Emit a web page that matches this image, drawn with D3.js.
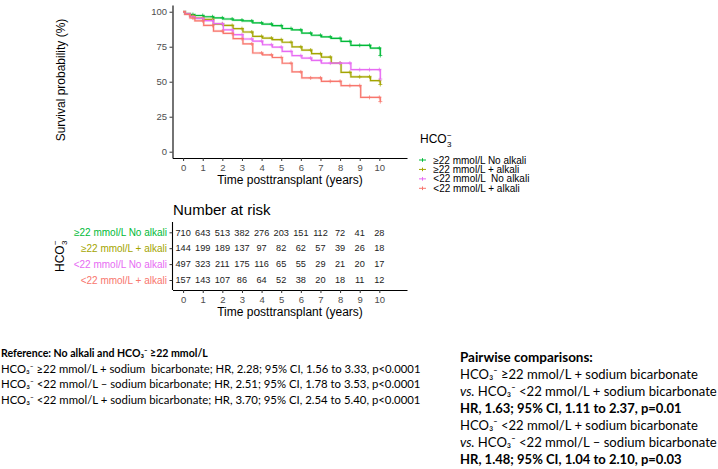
<!DOCTYPE html>
<html><head><meta charset="utf-8">
<script src="https://cdn.jsdelivr.net/npm/d3@7"></script>
<style>body{margin:0;background:#fff} svg{display:block}</style>
</head><body>
<svg id="c" width="718" height="469"></svg>
<script>
// ---------------- DATA ----------------
const groups = ["≥22 mmol/L No alkali", "≥22 mmol/L + alkali", "<22 mmol/L No alkali", "<22 mmol/L + alkali"];
const legendLabels = ["≥22 mmol/L No alkali", "≥22 mmol/L + alkali", "<22 mmol/L  No alkali", "<22 mmol/L + alkali"];
const stepTimes = [0, 0.1, 0.35, 0.6, 1.05, 1.55, 2.05, 2.55, 3.05, 3.55, 4.05, 4.55, 5.05, 5.55, 6.05, 6.55, 7.05, 7.55, 8.05, 8.55, 9.05, 9.55, 10.05];
const survNoAlkHigh = [100, 98.6, 98.0, 97.3, 96.4, 95.6, 94.8, 94.0, 93.4, 92.0, 91.2, 90.0, 88.0, 87.0, 84.7, 83.2, 82.0, 81.0, 78.8, 76.0, 76.0, 74.0, 68.7];
const survAlkHigh   = [100, 98.5, 97.0, 95.5, 94.5, 91.2, 90.2, 87.9, 85.5, 82.4, 81.2, 80.0, 78.2, 74.9, 72.6, 70.0, 67.6, 63.3, 56.7, 53.5, 53.5, 50.8, 48.0];
const survNoAlkLow  = [100, 98.5, 96.5, 95.2, 93.6, 91.5, 87.1, 83.6, 80.5, 79.0, 76.4, 74.7, 71.6, 68.6, 66.9, 65.2, 63.3, 63.3, 63.3, 58.6, 58.6, 58.6, 51.9];
const survAlkLow    = [100, 98.0, 95.5, 93.5, 90.2, 86.2, 84.5, 80.8, 77.0, 70.5, 69.2, 67.3, 63.2, 57.0, 52.7, 52.7, 50.3, 50.3, 47.2, 47.2, 38.8, 38.8, 35.8];
const censorTimes = [0.5, 1, 1.5, 2, 2.5, 3, 3.5, 4, 4.5, 5, 5.5, 6, 6.5, 7, 7.5, 8, 8.5, 9, 9.5, 10, 10.05];
const riskTimes = [0, 1, 2, 3, 4, 5, 6, 7, 8, 9, 10];
const riskNoAlkHigh = [710, 643, 513, 382, 276, 203, 151, 112, 72, 41, 28];
const riskAlkHigh   = [144, 199, 189, 137, 97, 82, 62, 57, 39, 26, 18];
const riskNoAlkLow  = [497, 323, 211, 175, 116, 65, 55, 29, 21, 20, 17];
const riskAlkLow    = [157, 143, 107, 86, 64, 52, 38, 20, 18, 11, 12];
const xTicks = [0, 1, 2, 3, 4, 5, 6, 7, 8, 9, 10];
const yTicks = [0, 25, 50, 75, 100];
const leftNotes = [
  "HCO₃⁻ ≥22 mmol/L + sodium  bicarbonate; HR, 2.28; 95% CI, 1.56 to 3.33, p<0.0001",
  "HCO₃⁻ <22 mmol/L – sodium bicarbonate; HR, 2.51; 95% CI, 1.78 to 3.53, p<0.0001",
  "HCO₃⁻ <22 mmol/L + sodium bicarbonate; HR, 3.70; 95% CI, 2.54 to 5.40, p<0.0001"
];

// ---------------- STYLE ----------------
const colors = ["#00BA38", "#A3A500", "#E76BF3", "#F8766D"];
const survAll = [survNoAlkHigh, survAlkHigh, survNoAlkLow, survAlkLow];
const riskAll = [riskNoAlkHigh, riskAlkHigh, riskNoAlkLow, riskAlkLow];
const AX = "Liberation Sans, Arial, sans-serif";
const NOTE = "Lato, 'Open Sans', sans-serif";

const svg = d3.select("#c");
svg.append("rect").attr("width", 718).attr("height", 469).attr("fill", "#fff");

// ---------------- SURVIVAL PLOT ----------------
const x = d3.scaleLinear().domain([-0.54, 11.41]).range([172.5, 407]);
const y = d3.scaleLinear().domain([-4.5, 104.8]).range([158, 5]);

function styleAxis(g) {
  g.select(".domain").attr("stroke", "#000").attr("stroke-width", 1.1);
  g.selectAll(".tick line").attr("stroke", "#333").attr("stroke-width", 1);
  g.selectAll(".tick text").attr("fill", "#4D4D4D").attr("font-family", AX).attr("font-size", 9.5);
}

const gy = svg.append("g").attr("transform", "translate(172.5,0)")
  .call(d3.axisLeft(y).tickValues(yTicks).tickSize(3).tickPadding(2.5).tickSizeOuter(0));
styleAxis(gy);
const gx = svg.append("g").attr("transform", "translate(0,158)")
  .call(d3.axisBottom(x).tickValues(xTicks).tickSize(3).tickPadding(3).tickSizeOuter(0));
styleAxis(gx);

svg.append("text").attr("x", 290).attr("y", 183.5).attr("text-anchor", "middle")
  .attr("font-family", AX).attr("font-size", 12).attr("fill", "#000")
  .text("Time posttransplant (years)");
svg.append("text").attr("transform", "translate(65,80) rotate(-90)").attr("text-anchor", "middle")
  .attr("font-family", AX).attr("font-size", 12).attr("fill", "#000")
  .text("Survival probability (%)");

const line = d3.line().x(d => x(d[0])).y(d => y(d[1])).curve(d3.curveStepAfter);
function survAt(vals, t) {
  let v = vals[0];
  for (let i = 0; i < stepTimes.length; i++) if (stepTimes[i] <= t + 1e-9) v = vals[i];
  return v;
}
const curves = svg.append("g");
survAll.forEach((vals, gi) => {
  const pts = stepTimes.map((t, i) => [t, vals[i]]);
  curves.append("path").datum(pts).attr("d", line).attr("fill", "none")
    .attr("stroke", colors[gi]).attr("stroke-width", 2.4).attr("stroke-opacity", 0.25);
  curves.append("path").datum(pts).attr("d", line).attr("fill", "none")
    .attr("stroke", colors[gi]).attr("stroke-width", 1.2);
  censorTimes.forEach(t => {
    const cx = x(t), cy = y(survAt(vals, t));
    curves.append("path").attr("d", `M${cx - 2},${cy}H${cx + 2}M${cx},${cy - 2}V${cy + 2}`)
      .attr("stroke", colors[gi]).attr("stroke-width", 0.9).attr("stroke-opacity", 0.8);
  });
});

// ---------------- LEGEND ----------------
const lg = svg.append("g");
const hco = lg.append("text").attr("x", 420).attr("y", 143.3).attr("font-family", AX).attr("font-size", 12).attr("fill", "#000").text("HCO");
const hw = hco.node().getComputedTextLength();
lg.append("text").attr("x", 420 + hw + 0.3).attr("y", 146.5).attr("font-family", AX).attr("font-size", 8).text("3");
lg.append("text").attr("x", 420 + hw + 0.3).attr("y", 137.5).attr("font-family", AX).attr("font-size", 8).text("−");
const legendRowY = d3.scalePoint().domain(legendLabels).range([160, 188.3]);
legendLabels.forEach((lab, i) => {
  const yy = legendRowY(lab);
  lg.append("path").attr("d", `M419,${yy}H426M422.5,${yy - 1.8}V${yy + 1.8}`)
    .attr("stroke", colors[i]).attr("stroke-width", 1);
  lg.append("text").attr("x", 433.3).attr("y", yy).attr("dy", "0.35em")
    .attr("font-family", AX).attr("font-size", 10).attr("fill", "#000")
    .style("white-space", "pre").text(lab);
});

// ---------------- NUMBER AT RISK TABLE ----------------
svg.append("text").attr("x", 173).attr("y", 214.5).attr("font-family", AX).attr("font-size", 15).attr("fill", "#000").text("Number at risk");
const ry = d3.scalePoint().domain(groups).range([232.3, 280]);
const gry = svg.append("g").attr("transform", "translate(172.5,0)")
  .call(d3.axisLeft(ry).tickSize(3).tickPadding(2.5).tickSizeOuter(0));
gry.select(".domain").attr("d", "M0,222V290").attr("stroke", "#000").attr("stroke-width", 1.1);
gry.selectAll(".tick line").attr("stroke", "#333");
gry.selectAll(".tick text").attr("font-family", AX).attr("font-size", 10)
  .attr("fill", (d, i) => colors[i]);
const xr = x.copy();
const grx = svg.append("g").attr("transform", "translate(0,290)")
  .call(d3.axisBottom(xr).tickValues(xTicks).tickSize(3).tickPadding(3).tickSizeOuter(0));
styleAxis(grx);
riskAll.forEach((vals, gi) => {
  svg.append("g").selectAll("text").data(vals).join("text")
    .attr("x", (d, i) => x(riskTimes[i])).attr("y", ry(groups[gi])).attr("dy", "0.35em")
    .attr("text-anchor", "middle").attr("font-family", AX).attr("font-size", 9.2).attr("fill", "#222")
    .text(d => d);
});
svg.append("text").attr("x", 290).attr("y", 315.5).attr("text-anchor", "middle")
  .attr("font-family", AX).attr("font-size", 12).attr("fill", "#000")
  .text("Time posttransplant (years)");
// rotated HCO3- label
const rg = svg.append("g").attr("transform", "translate(63.5,272) rotate(-90)");
const rh = rg.append("text").attr("x", 0).attr("y", 0).attr("font-family", AX).attr("font-size", 12).attr("fill", "#000").text("HCO");
const rw = rh.node().getComputedTextLength();
rg.append("text").attr("x", rw + 0.3).attr("y", 3.2).attr("font-family", AX).attr("font-size", 8).text("3");
rg.append("text").attr("x", rw + 0.3).attr("y", -5.8).attr("font-family", AX).attr("font-size", 8).text("−");

// ---------------- NOTES ----------------
function fit(t, target) {
  const w = t.node().getComputedTextLength();
  const fs = parseFloat(t.attr("font-size"));
  t.attr("font-size", fs * target / w);
}
const n1 = svg.append("text").attr("x", 1).attr("y", 357).attr("font-family", NOTE).attr("font-size", 11)
  .attr("font-weight", "bold").attr("fill", "#000").text("Reference: No alkali and HCO₃⁻ ≥22 mmol/L");
fit(n1, 207);
leftNotes.forEach((s, i) => {
  const t = svg.append("text").attr("x", 1).attr("y", 372.5 + i * 15.5).attr("font-family", NOTE)
    .attr("font-size", 11).attr("fill", "#000").style("white-space", "pre").text(s);
  fit(t, 420);
});

const rightLines = [
  {parts: [["Pairwise comparisons:", "bold", "normal"]], w: 133},
  {parts: [["HCO₃⁻ ≥22 mmol/L + sodium bicarbonate", "normal", "normal"]], w: 238},
  {parts: [["vs.", "normal", "italic"], [" HCO₃⁻ <22 mmol/L + sodium bicarbonate", "normal", "normal"]], w: 257},
  {parts: [["HR, 1.63; 95% CI, 1.11 to 2.37, p=0.01", "bold", "normal"]], w: 222},
  {parts: [["HCO₃⁻ <22 mmol/L + sodium bicarbonate", "normal", "normal"]], w: 238},
  {parts: [["vs.", "normal", "italic"], [" HCO₃⁻ <22 mmol/L – sodium bicarbonate", "normal", "normal"]], w: 257},
  {parts: [["HR, 1.48; 95% CI, 1.04 to 2.10, p=0.03", "bold", "normal"]], w: 222}
];
rightLines.forEach((ln, i) => {
  const t = svg.append("text").attr("x", 460).attr("y", 361.5 + i * 17.1)
    .attr("font-family", NOTE).attr("font-size", 13).attr("fill", "#000").style("white-space", "pre");
  ln.parts.forEach(p => t.append("tspan").attr("font-weight", p[1]).attr("font-style", p[2]).text(p[0]));
  fit(t, ln.w);
});
</script>
</body></html>
